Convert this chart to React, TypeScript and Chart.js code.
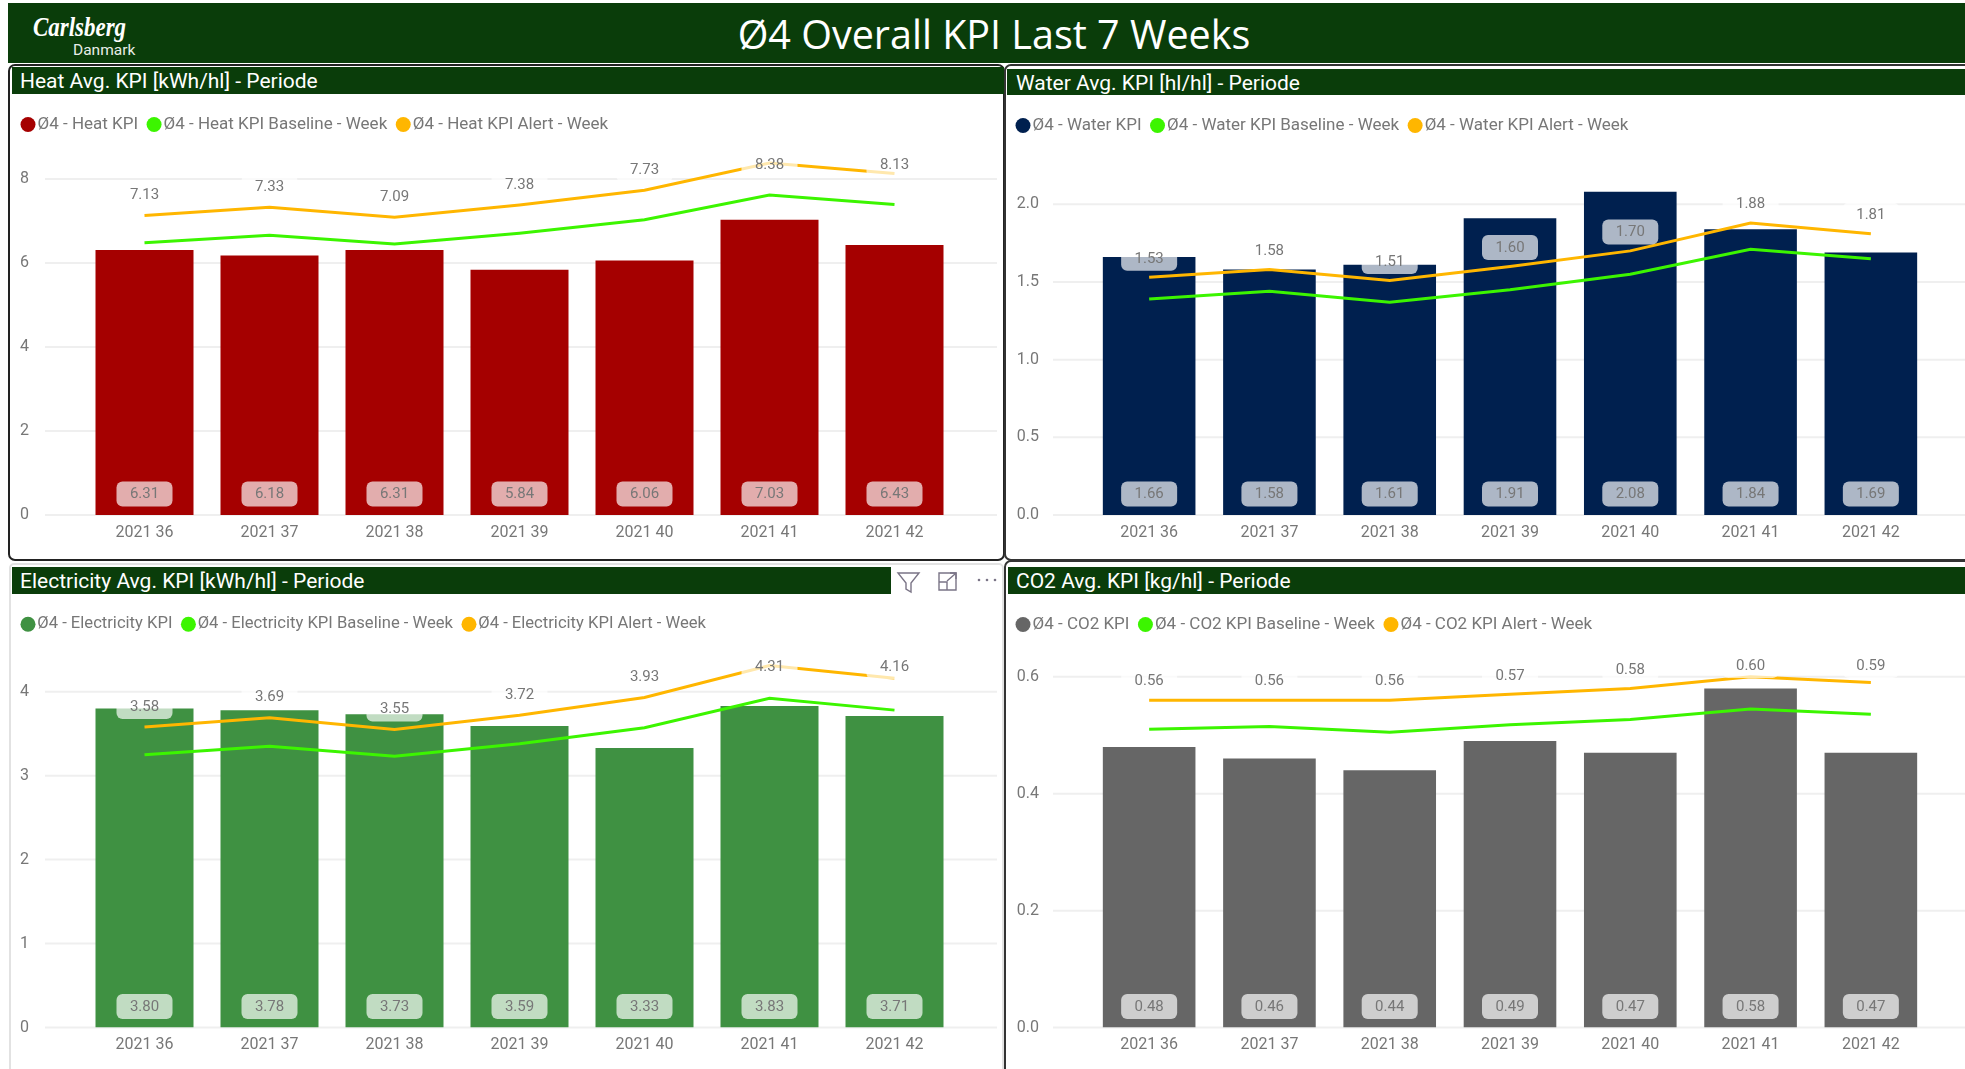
import React, { useEffect, useRef } from "react";
import { Chart, registerables } from "chart.js";

Chart.register(...registerables);

const FONT = "Roboto";
const TEXT_GREY = "#777777";
const weeks = ["2021 36", "2021 37", "2021 38", "2021 39", "2021 40", "2021 41", "2021 42"];

const heatKpi = [6.31, 6.18, 6.31, 5.84, 6.06, 7.03, 6.43];
const heatBaseline = [6.48, 6.66, 6.45, 6.71, 7.03, 7.62, 7.39];
const heatAlert = [7.13, 7.33, 7.09, 7.38, 7.73, 8.38, 8.13];

const waterKpi = [1.66, 1.58, 1.61, 1.91, 2.08, 1.84, 1.69];
const waterBaseline = [1.39, 1.44, 1.37, 1.45, 1.55, 1.71, 1.65];
const waterAlert = [1.53, 1.58, 1.51, 1.6, 1.7, 1.88, 1.81];

const elecKpi = [3.8, 3.78, 3.73, 3.59, 3.33, 3.83, 3.71];
const elecBaseline = [3.25, 3.35, 3.23, 3.38, 3.57, 3.92, 3.78];
const elecAlert = [3.58, 3.69, 3.55, 3.72, 3.93, 4.31, 4.16];

const co2Kpi = [0.48, 0.46, 0.44, 0.49, 0.47, 0.58, 0.47];
const co2Baseline = [0.51, 0.515, 0.505, 0.518, 0.527, 0.545, 0.536];
const co2Alert = [0.56, 0.56, 0.56, 0.57, 0.58, 0.6, 0.59];

type PanelProps = {
  name: string;
  kpi: number[];
  baseline: number[];
  alert: number[];
  color: string;
  yMax: number;
  step: number;
  decimals: number;
  left: number;
  top: number;
  right: number;
  bottom: number;
  bandLeft: number;
  bandRight: number;
  gridLeft: number;
  gridRight: number;
  xAxisH: number;
  barShare: number;
  labelLift: number;
  labelCeil: number;
  tickGap: number;
  legendSize: number;
};

function pill(ctx: CanvasRenderingContext2D, cx: number, cy: number, text: string) {
  ctx.save();
  ctx.fillStyle = "rgba(255,255,255,0.68)";
  ctx.beginPath();
  (ctx as any).roundRect(cx - 28, cy - 12.5, 56, 25, 6);
  ctx.fill();
  ctx.fillStyle = TEXT_GREY;
  ctx.font = `15px ${FONT}`;
  ctx.textAlign = "center";
  ctx.textBaseline = "middle";
  ctx.fillText(text, cx, cy + 0.5);
  ctx.restore();
}

function KpiChart(p: PanelProps) {
  const ref = useRef<HTMLCanvasElement>(null);
  useEffect(() => {
    if (!ref.current) return;
    const gridPlugin = {
      id: "wideGrid",
      beforeDatasetsDraw(chart: any) {
        const { ctx, scales } = chart;
        ctx.save();
        ctx.strokeStyle = "#EFEFEF";
        ctx.lineWidth = 2;
        scales.y.ticks.forEach((t: any) => {
          const y = scales.y.getPixelForValue(t.value);
          ctx.beginPath();
          ctx.moveTo(p.gridLeft - p.left, y);
          ctx.lineTo(p.gridRight - p.left, y);
          ctx.stroke();
        });
        ctx.restore();
      },
    };
    const labelPlugin = {
      id: "valueLabels",
      afterDatasetsDraw(chart: any) {
        const { ctx, scales } = chart;
        p.kpi.forEach((v, i) => {
          pill(ctx, scales.x.getPixelForValue(i), scales.y.getPixelForValue(0) - 21, v.toFixed(2));
        });
        p.alert.forEach((v, i) => {
          const y = Math.max(scales.y.getPixelForValue(v) - p.labelLift, p.labelCeil - p.top);
          pill(ctx, scales.x.getPixelForValue(i), y, v.toFixed(2));
        });
      },
    };
    const line = (label: string, data: number[], color: string, order: number) => ({
      type: "line" as const,
      label,
      data,
      order,
      borderColor: color,
      backgroundColor: color,
      borderWidth: 3,
      pointRadius: 0,
      pointBorderWidth: 0,
      tension: 0,
    });
    const chart = new Chart(ref.current, {
      type: "bar",
      data: {
        labels: weeks,
        datasets: [
          {
            type: "bar" as const,
            label: `Ø4 - ${p.name} KPI`,
            data: p.kpi,
            order: 3,
            backgroundColor: p.color,
            borderWidth: 0,
            categoryPercentage: 1,
            barPercentage: p.barShare,
          },
          line(`Ø4 - ${p.name} KPI Baseline - Week`, p.baseline, "#3CF500", 2),
          line(`Ø4 - ${p.name} KPI Alert - Week`, p.alert, "#FFB600", 1),
        ] as any,
      },
      plugins: [gridPlugin, labelPlugin],
      options: {
        responsive: false,
        animation: false,
        maintainAspectRatio: false,
        layout: { padding: { left: 0, right: p.right - p.bandRight, top: 0, bottom: 0 } },
        plugins: {
          tooltip: { enabled: false },
          title: { display: false },
          legend: {
            display: true,
            position: "top",
            align: "start",
            labels: {
              usePointStyle: true,
              pointStyle: "circle",
              boxWidth: 2,
              boxHeight: 10.6,
              padding: 15,
              color: TEXT_GREY,
              font: { family: FONT, size: p.legendSize },
              sort: (a: any, b: any) => a.datasetIndex - b.datasetIndex,
            },
          },
        },
        scales: {
          x: {
            grid: { display: false, drawTicks: false },
            border: { display: false },
            afterFit(scale: any) {
              scale.height = p.xAxisH;
            },
            ticks: {
              color: TEXT_GREY,
              font: { family: FONT, size: 16 },
              padding: 8,
              maxRotation: 0,
              autoSkip: false,
            },
          },
          y: {
            min: 0,
            max: p.yMax,
            grid: { display: false, drawTicks: false },
            border: { display: false },
            afterFit(scale: any) {
              scale.width = p.bandLeft - p.left;
              scale.paddingTop = 0;
              scale.paddingBottom = 0;
            },
            ticks: {
              stepSize: p.step,
              includeBounds: false,
              color: TEXT_GREY,
              font: { family: FONT, size: 16 },
              padding: p.tickGap,
              callback: (v: any) => Number(v).toFixed(p.decimals),
            },
          },
        },
      },
    });
    return () => chart.destroy();
  }, []);
  return (
    <canvas
      ref={ref}
      width={p.right - p.left}
      height={p.bottom - p.top}
      style={{ position: "absolute", left: p.left, top: p.top, width: p.right - p.left, height: p.bottom - p.top }}
    />
  );
}

function TitleBar({ x, y, w, h, pad, text }: { x: number; y: number; w: number; h: number; pad: number; text: string }) {
  return (
    <div
      style={{
        position: "absolute",
        left: x,
        top: y,
        width: w,
        height: h,
        background: "#0A3D0A",
        color: "#fff",
        font: `21px ${FONT}`,
        lineHeight: `${h + 2}px`,
        paddingLeft: pad,
        boxSizing: "border-box",
        whiteSpace: "nowrap",
      }}
    >
      {text}
    </div>
  );
}

function box(s: React.CSSProperties) {
  return <div style={{ position: "absolute", boxSizing: "border-box", ...s }} />;
}

export default function App() {
  return (
    <div
      style={{
        position: "absolute",
        left: 0,
        top: 0,
        width: 1965,
        height: 1069,
        overflow: "hidden",
        background: "#fff",
        fontFamily: FONT,
      }}
    >
      {/* Header */}
      <div style={{ position: "absolute", left: 8, top: 3, width: 1957, height: 60, background: "#0A3D0A" }} />
      <div
        style={{
          position: "absolute",
          left: 33,
          top: 11,
          color: "#fff",
          font: `italic bold 27px "Liberation Serif"`,
          transformOrigin: "0 0",
          transform: "scale(0.85,1.05)",
        }}
      >
        Carlsberg
      </div>
      <div style={{ position: "absolute", left: 73, top: 41, color: "#E8EDE8", font: `15.5px ${FONT}` }}>Danmark</div>
      <div
        style={{
          position: "absolute",
          left: 0,
          width: 1988,
          top: 7,
          textAlign: "center",
          color: "#fff",
          font: `39.5px "Open Sans"`,
          whiteSpace: "nowrap",
        }}
      >
        Ø4 Overall KPI Last 7 Weeks
      </div>

      {/* Panel frames */}
      {box({ left: 8, top: 64, width: 997, height: 497, border: "2px solid #222", borderRadius: 7 })}
      {box({ left: 1004, top: 64, width: 970, height: 497, border: "2px solid #333", borderRadius: 7 })}
      {box({ left: 9, top: 563, width: 995, height: 520, border: "2px solid #E2E2E2", borderRadius: 5 })}
      {box({ left: 1004, top: 560, width: 970, height: 520, border: "2px solid #333", borderRadius: 7 })}

      <TitleBar x={12} y={67} w={992} h={27} pad={8} text="Heat Avg. KPI [kWh/hl] - Periode" />
      <TitleBar x={1007} y={69} w={958} h={26} pad={9} text="Water Avg. KPI [hl/hl] - Periode" />
      <TitleBar x={12} y={567} w={879} h={27} pad={8} text="Electricity Avg. KPI [kWh/hl] - Periode" />
      <TitleBar x={1008} y={567} w={957} h={27} pad={8} text="CO2 Avg. KPI [kg/hl] - Periode" />

      <KpiChart
        name="Heat" kpi={heatKpi} baseline={heatBaseline} alert={heatAlert} color="#A50000"
        yMax={8.857} step={2} decimals={0}
        left={12} top={101} right={1004} bottom={560}
        bandLeft={82} bandRight={957} gridLeft={45} gridRight={997} xAxisH={45} barShare={0.784}
        labelLift={20.5} labelCeil={165} tickGap={53} legendSize={17}
      />
      <KpiChart
        name="Water" kpi={waterKpi} baseline={waterBaseline} alert={waterAlert} color="#00204F"
        yMax={2.388} step={0.5} decimals={1}
        left={1007} top={102} right={1965} bottom={560}
        bandLeft={1089} bandRight={1931} gridLeft={1053} gridRight={1965} xAxisH={45} barShare={0.77}
        labelLift={19} labelCeil={150} tickGap={50} legendSize={17}
      />
      <KpiChart
        name="Electricity" kpi={elecKpi} baseline={elecBaseline} alert={elecAlert} color="#3F9142"
        yMax={4.584} step={1} decimals={0}
        left={12} top={601} right={1004} bottom={1069}
        bandLeft={82} bandRight={957} gridLeft={45} gridRight={997} xAxisH={41.4} barShare={0.784}
        labelLift={20.5} labelCeil={667} tickGap={53} legendSize={16.6}
      />
      <KpiChart
        name="CO2" kpi={co2Kpi} baseline={co2Baseline} alert={co2Alert} color="#666666"
        yMax={0.6577} step={0.2} decimals={1}
        left={1007} top={601} right={1965} bottom={1069}
        bandLeft={1089} bandRight={1931} gridLeft={1053} gridRight={1965} xAxisH={41.4} barShare={0.77}
        labelLift={19} labelCeil={665.5} tickGap={50} legendSize={17}
      />

      {/* Visual header icons */}
      <svg style={{ position: "absolute", left: 895, top: 568, width: 105, height: 26 }} viewBox="0 0 105 26">
        <path d="M3 5 H24 L16 15 V24 L11 21 V15 Z" fill="none" stroke="#7A7486" strokeWidth="1.4" />
        <path d="M44 5 H61 V22 H44 Z M44 14 H52 V22" fill="none" stroke="#7A7486" strokeWidth="1.4" />
        <path d="M52 13 L60 6 M55 5 H61 V11" fill="none" stroke="#7A7486" strokeWidth="1.4" />
        <circle cx="84" cy="12" r="1.3" fill="#7A7486" />
        <circle cx="92" cy="12" r="1.3" fill="#7A7486" />
        <circle cx="100" cy="12" r="1.3" fill="#7A7486" />
      </svg>
    </div>
  );
}
